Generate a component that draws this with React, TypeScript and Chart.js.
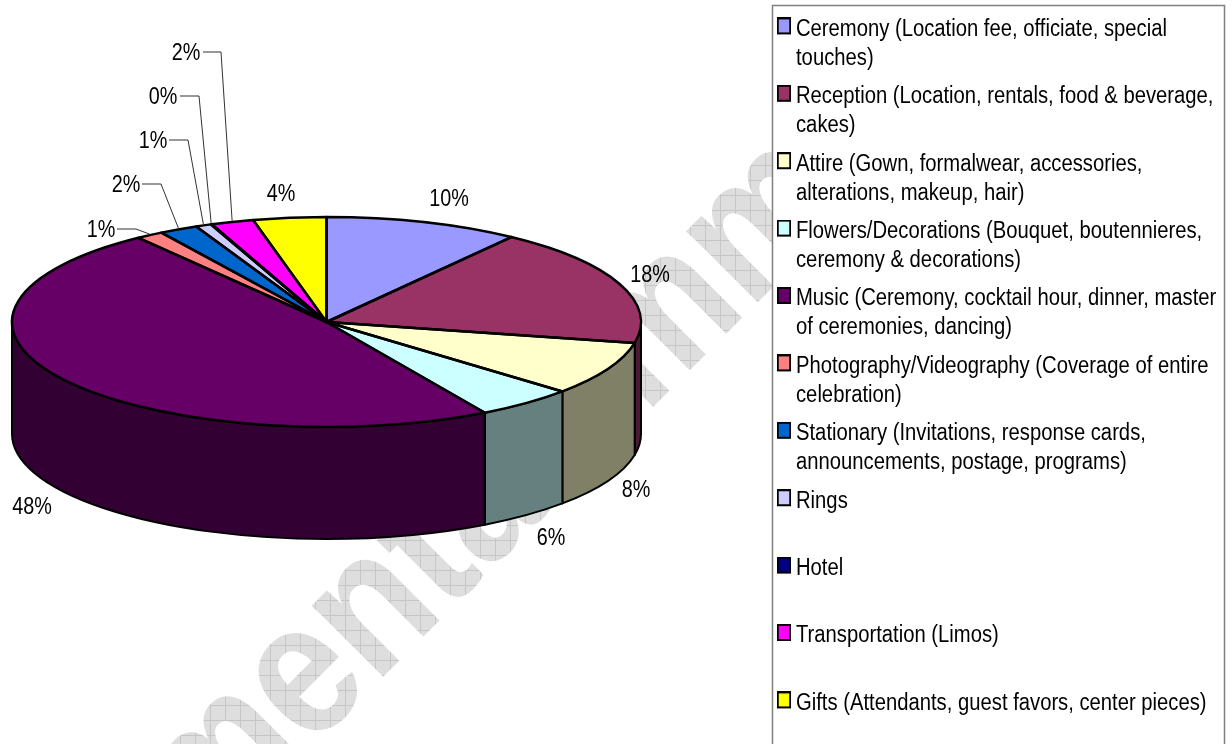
import React, { useEffect, useRef } from "react";
import { Chart, registerables } from "chart.js";

Chart.register(...registerables);

const categories: string[][] = [
  ["Ceremony (Location fee, officiate, special", "touches)"],
  ["Reception (Location, rentals, food & beverage,", "cakes)"],
  ["Attire (Gown, formalwear, accessories,", "alterations, makeup, hair)"],
  ["Flowers/Decorations (Bouquet, boutennieres,", "ceremony & decorations)"],
  ["Music (Ceremony, cocktail hour, dinner, master", "of ceremonies, dancing)"],
  ["Photography/Videography (Coverage of entire", "celebration)"],
  ["Stationary (Invitations, response cards,", "announcements, postage, programs)"],
  ["Rings", ""],
  ["Hotel", ""],
  ["Transportation (Limos)", ""],
  ["Gifts (Attendants, guest favors, center pieces)"],
];
const values = [10.0, 18.2, 8.3, 5.1, 48.2, 1.4, 2.0, 0.8, 0.05, 2.2, 3.75];
const percentLabels = ["10%", "18%", "8%", "6%", "48%", "1%", "2%", "1%", "0%", "2%", "4%"];
const colors = ["#9999FF", "#993366", "#FFFFCC", "#CCFFFF", "#660066", "#FF8080", "#0066CC", "#CCCCFF", "#000080", "#FF00FF", "#FFFF00"];

// label centres [x, y], and leader start [x0, x1, y] for the small slices
const labelCentres = [[449, 200], [650, 276], [636, 491], [551, 539], [32, 508], [101, 231], [126, 186], [153, 142], [163, 98], [186, 54], [281, 195]];
const leaderElbows: (number[] | null)[] = [null, null, null, null, null, [117, 136, 229], [142, 161, 184], [169, 188, 140], [180, 199, 96], [203, 221, 52], null];

const PIE = { cx: 326.5, cy: 322, rx: 314.5, ry: 105, depth: 112 };
const LEGEND = { left: 770.8, top: 8.5, boxLeft: 772.5, boxTop: 5.5, boxRight: 1224.5, textX: 796, squeeze: 0.88 };
const FONT = "'Liberation Sans', Arial, sans-serif";

const half = (hex: string) => {
  const n = parseInt(hex.slice(1), 16);
  const c = [(n >> 16) & 255, (n >> 8) & 255, n & 255].map((v) => Math.round(v / 2));
  return `rgb(${c[0]},${c[1]},${c[2]})`;
};

const swatch = (color: string) => {
  const c = document.createElement("canvas");
  c.width = 16;
  c.height = 24;
  const g = c.getContext("2d")!;
  g.fillStyle = "#000";
  g.fillRect(0, 0, 16, 17);
  g.fillStyle = color;
  g.fillRect(2, 2, 12, 13);
  return c;
};

const gridPattern = (ctx: CanvasRenderingContext2D) => {
  const c = document.createElement("canvas");
  c.width = 15;
  c.height = 15;
  const g = c.getContext("2d")!;
  g.fillStyle = "#DEDEDE";
  g.fillRect(0, 0, 15, 15);
  g.fillStyle = "#C6C6C6";
  g.fillRect(0, 0, 15, 1);
  g.fillRect(0, 0, 1, 15);
  const p = ctx.createPattern(c, "repeat")!;
  return p;
};

const watermarkText = (ctx: CanvasRenderingContext2D, text: string, head: string, x: number, y: number) => {
  ctx.save();
  ctx.translate(x, y);
  ctx.rotate(-Math.PI / 4);
  ctx.scale(0.87, 1);
  ctx.font = `bold 191px ${FONT}`;
  ctx.textBaseline = "alphabetic";
  const p = gridPattern(ctx);
  p.setTransform(new DOMMatrix().scale(1 / 0.87, 1).rotate(45).translate(-x, -y));
  ctx.fillStyle = p;
  ctx.fillText(text, -ctx.measureText(head).width, 0);
  ctx.restore();
};

const arcsOf = (chart: any) => chart.getDatasetMeta(0).data as any[];

const scene = {
  id: "scene",
  beforeDraw(chart: any) {
    const { ctx, legend } = chart;
    legend.left = LEGEND.left;
    legend.top = LEGEND.top;
    legend.right = 1600;
    legend.bottom = 5000;
    if (!legend.__squeezed) {
      legend.__squeezed = true;
      const draw = legend.draw.bind(legend);
      legend.draw = () => {
        const { textX, squeeze } = LEGEND;
        ctx.save();
        ctx.translate(textX, 0);
        ctx.scale(squeeze, 1);
        ctx.translate(-textX, 0);
        draw();
        ctx.restore();
      };
    }

    ctx.save();
    ctx.fillStyle = "#fff";
    ctx.fillRect(0, 0, 1232, 744);
    ctx.restore();
    watermarkText(ctx, "Documenta", "Docume", 375, 685);
    watermarkText(ctx, "mm", "", 645, 415);

    // legend frame
    ctx.save();
    ctx.fillStyle = "#fff";
    ctx.strokeStyle = "#808080";
    ctx.lineWidth = 1.5;
    ctx.beginPath();
    ctx.rect(LEGEND.boxLeft, LEGEND.boxTop, LEGEND.boxRight - LEGEND.boxLeft, 800);
    ctx.fill();
    ctx.stroke();
    ctx.restore();
  },
  beforeDatasetsDraw(chart: any) {
    const { ctx } = chart;
    const { cx, cy, rx, ry, depth } = PIE;
    // side wall of every slice that faces the viewer
    arcsOf(chart).forEach((arc, i) => {
      const a = Math.max(arc.startAngle, 0);
      const b = Math.min(arc.endAngle, Math.PI);
      if (b <= a) return;
      ctx.beginPath();
      ctx.ellipse(cx, cy, rx, ry, 0, a, b);
      ctx.ellipse(cx, cy + depth, rx, ry, 0, b, a, true);
      ctx.closePath();
      ctx.fillStyle = half(colors[i]);
      ctx.fill();
      ctx.strokeStyle = "#000";
      ctx.lineWidth = 2;
      ctx.lineJoin = "round";
      ctx.stroke();
    });
    const first = arcsOf(chart)[0];
    ctx.save();
    ctx.translate(cx, cy);
    ctx.scale(rx / first.outerRadius, ry / first.outerRadius);
    ctx.translate(-first.x, -first.y);
  },
  afterDatasetsDraw(chart: any) {
    const { ctx } = chart;
    ctx.restore();
    const { cx, cy, rx, ry } = PIE;
    // slice outlines, stroked at an even width on the flattened top
    arcsOf(chart).forEach((arc) => {
      ctx.beginPath();
      ctx.moveTo(cx, cy);
      ctx.ellipse(cx, cy, rx, ry, 0, arc.startAngle, arc.endAngle);
      ctx.closePath();
      ctx.strokeStyle = "#000";
      ctx.lineWidth = 2.5;
      ctx.lineJoin = "round";
      ctx.stroke();
    });
    // leaders
    arcsOf(chart).forEach((arc, i) => {
      const elbow = leaderElbows[i];
      if (!elbow) return;
      const mid = (arc.startAngle + arc.endAngle) / 2;
      ctx.beginPath();
      ctx.moveTo(elbow[0], elbow[2]);
      ctx.lineTo(elbow[1], elbow[2]);
      ctx.lineTo(cx + rx * Math.cos(mid), cy + ry * Math.sin(mid) - 1);
      ctx.strokeStyle = "#333";
      ctx.lineWidth = 1;
      ctx.stroke();
    });
    // percentage labels
    ctx.save();
    ctx.fillStyle = "#000";
    ctx.font = `23px ${FONT}`;
    ctx.textAlign = "center";
    ctx.textBaseline = "middle";
    percentLabels.forEach((text, i) => {
      const [x, y] = labelCentres[i];
      ctx.save();
      ctx.translate(x, y);
      ctx.scale(0.86, 1);
      ctx.fillText(text, 0, 0);
      ctx.restore();
    });
    ctx.restore();
  },
};

export default function App() {
  const ref = useRef<HTMLCanvasElement>(null);
  useEffect(() => {
    const chart = new Chart(ref.current!, {
      type: "pie",
      data: {
        labels: categories as any,
        datasets: [{ data: values, backgroundColor: colors, borderWidth: 0 }],
      },
      options: {
        responsive: false,
        animation: false,
        layout: { padding: 0 },
        plugins: {
          tooltip: { enabled: false },
          legend: {
            position: "right",
            align: "start",
            labels: {
              font: { family: FONT, size: 23, lineHeight: 29 / 23 },
              color: "#000",
              usePointStyle: true,
              pointStyleWidth: 4.3,
              padding: 9.4,
              generateLabels: () =>
                categories.map((text, i) => ({
                  text,
                  pointStyle: swatch(colors[i]),
                  fillStyle: colors[i],
                  strokeStyle: "#000",
                  lineWidth: 0,
                  hidden: false,
                  index: i,
                })) as any,
            },
          },
        },
      },
      plugins: [scene],
    });
    return () => chart.destroy();
  }, []);
  return (
    <div style={{ position: "fixed", left: 0, top: 0, width: 1232, height: 744, overflow: "hidden" }}>
      <canvas ref={ref} width={1232} height={744} style={{ display: "block" }} />
    </div>
  );
}
